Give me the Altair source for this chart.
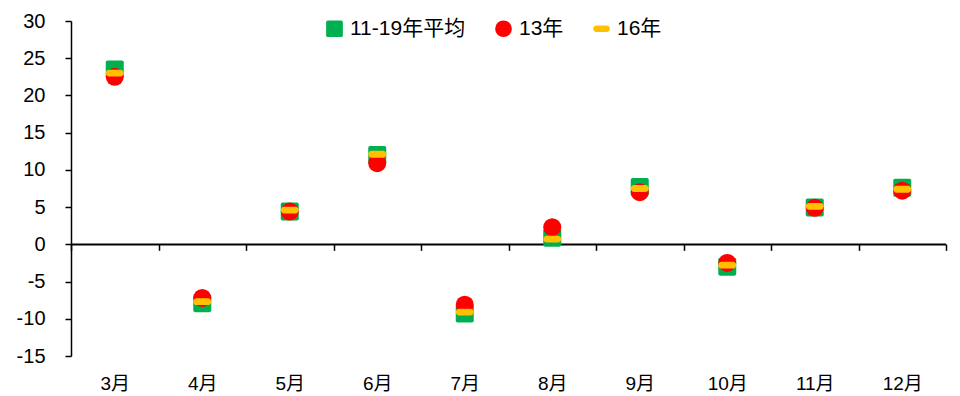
import altair as alt
import pandas as pd

months = ["3月", "4月", "5月", "6月", "7月", "8月", "9月", "10月", "11月", "12月"]
avg_11_19 = [23.5, -7.9, 4.4, 12.0, -9.3, 0.9, 7.7, -3.0, 4.95, 7.6]
y13 = [22.5, -7.2, 4.4, 10.9, -8.1, 2.3, 7.0, -2.5, 4.9, 7.2]
y16 = [23.0, -7.7, 4.6, 12.1, -9.1, 0.7, 7.5, -2.8, 5.1, 7.4]
series = ["11-19年平均", "13年", "16年"]
colors = ["#00B050", "#FF0000", "#FFC000"]
y_ticks = list(range(-15, 31, 5))

shapes = [
    "M-0.8,-1 L0.8,-1 Q1,-1 1,-0.8 L1,0.8 Q1,1 0.8,1 L-0.8,1 Q-1,1 -1,0.8 L-1,-0.8 Q-1,-1 -0.8,-1 Z",
    "circle",
    "M-0.62,-0.38 L0.62,-0.38 A0.38,0.38 0 0 1 0.62,0.38 L-0.62,0.38 A0.38,0.38 0 0 1 -0.62,-0.38 Z",
]

rows = []
for s, vals in zip(series, [avg_11_19, y13, y16]):
    for m, v in zip(months, vals):
        rows.append({"month": m, "value": v, "series": s})
df = pd.DataFrame(rows)

FONT = "Liberation Sans, Arial, Noto Sans CJK SC"
W, H = 875, 335
ymin, ymax = -15, 30
zero_offset = -H * (0 - ymin) / (ymax - ymin)

y_scale = alt.Scale(domain=[ymin, ymax], nice=False)
y_axis = alt.Axis(values=y_ticks, title=None, grid=False, tickSize=6,
                  tickColor="black", tickWidth=1.5, domainColor="black",
                  domainWidth=1.5, labelPadding=20, labelFontSize=20,
                  labelOverlap=False,
                  labelExpr="replace(datum.label, '\u2212', '-')",
                  labelColor="black", labelFont=FONT)

points = alt.Chart(df).mark_point(filled=True, size=324, opacity=1, strokeWidth=0).encode(
    x=alt.X("month:N", sort=months,
            scale=alt.Scale(paddingInner=0, paddingOuter=0),
            axis=alt.Axis(orient="bottom", title=None, domain=False, ticks=False,
                          labelPadding=18, labelFontSize=19, labelAngle=0,
                          labelOverlap=False,
                          labelColor="black", labelFont=FONT)),
    y=alt.Y("value:Q", scale=y_scale, axis=y_axis),
    color=alt.Color("series:N", scale=alt.Scale(domain=series, range=colors),
                    legend=alt.Legend(title=None)),
    shape=alt.Shape("series:N", scale=alt.Scale(domain=series, range=shapes),
                    legend=alt.Legend(title=None)),
)

bounds = pd.DataFrame({"b": [0, len(months)]})
zero_axis = alt.Chart(bounds).mark_rule(color="black", strokeWidth=1.5).encode(
    x=alt.X("min(b):Q", scale=alt.Scale(domain=[0, len(months)], nice=False, zero=False),
            axis=alt.Axis(orient="bottom", offset=zero_offset,
                          values=list(range(len(months) + 1)), labels=False,
                          tickSize=6, tickColor="black", tickWidth=1.5,
                          domainColor="black", domainWidth=1.5, grid=False, title=None)),
    x2="max(b):Q",
    y=alt.YDatum(0, scale=y_scale, axis=y_axis),
)

chart = alt.layer(zero_axis, points).resolve_scale(x="independent").properties(
    width=W, height=H,
    padding={"left": 71, "top": 21, "right": 14, "bottom": 40},
    autosize=alt.AutoSizeParams(type="none"),
).configure_view(stroke=None).configure_legend(
    orient="none", legendX=253, legendY=-3, direction="horizontal",
    labelFontSize=21, labelFont=FONT, labelColor="black", symbolSize=280,
    labelOffset=5, columnPadding=27, padding=0, symbolStrokeWidth=0,
)

chart.save("out.html", embed_options={"renderer": "svg", "actions": False})
